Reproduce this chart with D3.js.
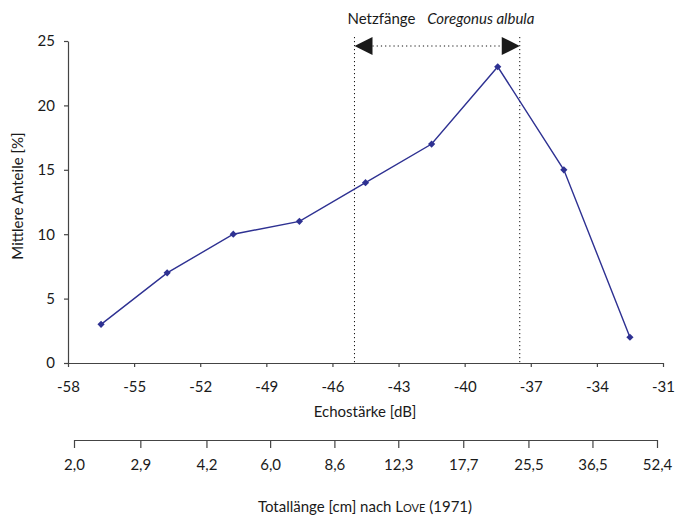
<!DOCTYPE html>
<html>
<head>
<meta charset="utf-8">
<script src="https://cdn.jsdelivr.net/npm/d3@7"></script>
<style>
  body { margin: 0; background: #fff; }
  svg text { font-family: Lato, "Open Sans", sans-serif; fill: #1a1a1a; }
</style>
</head>
<body>
<div id="chart"></div>
<script>
// data
const echoBins = [-56.5, -53.5, -50.5, -47.5, -44.5, -41.5, -38.5, -35.5, -32.5];
const shares = [3, 7, 10, 11, 14, 17, 23, 15, 2];
const xTicks = [-58, -55, -52, -49, -46, -43, -40, -37, -34, -31];
const yTicks = [0, 5, 10, 15, 20, 25];
const lengthTicks = [2.0, 2.9, 4.2, 6.0, 8.6, 12.3, 17.7, 25.5, 36.5, 52.4];
const netRange = [-45, -37.5];

const width = 681, height = 517;

const svg = d3.select("#chart").append("svg")
  .attr("width", width)
  .attr("height", height);

// scales
const x = d3.scaleLinear().domain([-58, -31]).range([68, 663]);
const y = d3.scaleLinear().domain([0, 25]).range([363, 41]);
const xLen = d3.scaleLog().domain([2.0, 52.4]).range([74, 657]);

const comma = d3.formatLocale({ decimal: ",", thousands: ".", grouping: [3], currency: ["", "€"] });
const fmtLen = comma.format(".1f");

// y axis
const yAxis = svg.append("g")
  .attr("transform", "translate(" + x(-58) + ",0)")
  .call(d3.axisLeft(y).tickValues(yTicks).tickSize(4).tickSizeOuter(0).tickPadding(9));

// x axis (Echostärke) - plain hyphen as in the original
const xAxis = svg.append("g")
  .attr("transform", "translate(0," + y(0) + ")")
  .call(d3.axisBottom(x).tickValues(xTicks)
    .tickFormat(function (d) { return String(d); })
    .tickSize(4).tickSizeOuter(0).tickPadding(14));

// second axis (Totallänge, log)
const lenAxis = svg.append("g")
  .attr("transform", "translate(0,440)")
  .call(d3.axisBottom(xLen).tickValues(lengthTicks).tickFormat(fmtLen)
    .tickSize(8).tickSizeOuter(0).tickPadding(11));

[yAxis, xAxis, lenAxis].forEach(function (g) {
  g.selectAll("path, line").attr("stroke", "#444").attr("stroke-width", 1.2);
  g.selectAll("text").style("font-size", "15px").attr("fill", "#1a1a1a");
});

// axis titles
svg.append("text")
  .attr("transform", "translate(23,196) rotate(-90)")
  .attr("text-anchor", "middle")
  .style("font-size", "15px")
  .text("Mittlere Anteile [%]");

svg.append("text")
  .attr("x", 365).attr("y", 417)
  .attr("text-anchor", "middle")
  .style("font-size", "15px")
  .text("Echostärke [dB]");

const lenTitle = svg.append("text")
  .attr("x", 365).attr("y", 512)
  .attr("text-anchor", "middle")
  .style("font-size", "15px");
lenTitle.append("tspan").text("Totallänge [cm] nach L");
lenTitle.append("tspan").style("font-size", "11px").text("OVE");
lenTitle.append("tspan").text(" (1971)");

// net catch range: dotted verticals + arrow
const ann = svg.append("g");
netRange.forEach(function (v) {
  ann.append("line")
    .attr("x1", x(v)).attr("x2", x(v))
    .attr("y1", 37).attr("y2", y(0))
    .attr("stroke", "#111")
    .attr("stroke-dasharray", "1.2,2.8");
});

const arrowY = 46;
const x0 = x(netRange[0]), x1 = x(netRange[1]);
ann.append("line")
  .attr("x1", x0 + 18).attr("x2", x1 - 18)
  .attr("y1", arrowY).attr("y2", arrowY)
  .attr("stroke", "#111")
  .attr("stroke-dasharray", "1.2,3");

ann.append("path")
  .attr("d", "M" + x0 + "," + arrowY + " L" + (x0 + 18) + "," + (arrowY - 9) + " L" + (x0 + 18) + "," + (arrowY + 9) + "Z")
  .attr("fill", "#1a1a1a");
ann.append("path")
  .attr("d", "M" + x1 + "," + arrowY + " L" + (x1 - 18) + "," + (arrowY - 9) + " L" + (x1 - 18) + "," + (arrowY + 9) + "Z")
  .attr("fill", "#1a1a1a");

const annText = ann.append("text")
  .attr("x", x0 - 7).attr("y", 24)
  .style("font-size", "15px");
annText.append("tspan").text("Netzfänge ");
annText.append("tspan").attr("dx", 8).style("font-style", "italic").text("Coregonus albula");

// data line
const points = echoBins.map(function (d, i) { return [d, shares[i]]; });

const line = d3.line()
  .x(function (d) { return x(d[0]); })
  .y(function (d) { return y(d[1]); });

svg.append("path")
  .datum(points)
  .attr("d", line)
  .attr("fill", "none")
  .attr("stroke", "#2e3192")
  .attr("stroke-width", 1.4);

// square markers turned 45 degrees
svg.selectAll("path.marker")
  .data(points)
  .enter().append("path")
  .attr("class", "marker")
  .attr("transform", function (d) { return "translate(" + x(d[0]) + "," + y(d[1]) + ") rotate(45)"; })
  .attr("d", d3.symbol().type(d3.symbolSquare).size(26))
  .attr("fill", "#2e3192");
</script>
</body>
</html>
